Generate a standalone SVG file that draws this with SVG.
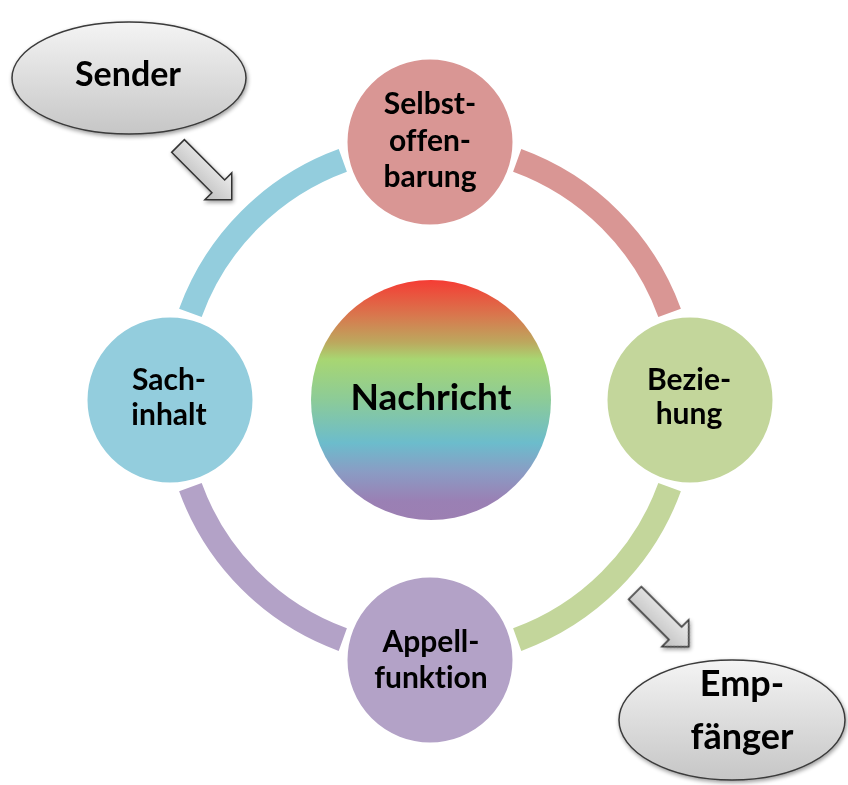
<svg xmlns="http://www.w3.org/2000/svg" width="848" height="785" viewBox="0 0 848 785">
<defs>
<linearGradient id="rainbow" x1="0" y1="0" x2="0" y2="1">
<stop offset="0" stop-color="#f53c34"/>
<stop offset="0.15" stop-color="#d8784e"/>
<stop offset="0.26" stop-color="#bca85e"/>
<stop offset="0.33" stop-color="#a8d672"/>
<stop offset="0.5" stop-color="#8ccb98"/>
<stop offset="0.68" stop-color="#6cbccc"/>
<stop offset="0.8" stop-color="#8a9cc4"/>
<stop offset="0.92" stop-color="#9a80b4"/>
<stop offset="1" stop-color="#9c7fb2"/>
</linearGradient>
<linearGradient id="grey" x1="0" y1="0" x2="0" y2="1">
<stop offset="0" stop-color="#f4f4f4"/>
<stop offset="1" stop-color="#c6c6c6"/>
</linearGradient>
<linearGradient id="greyArrow" x1="0" y1="0" x2="0" y2="1">
<stop offset="0" stop-color="#eeeeee"/>
<stop offset="1" stop-color="#bdbdbd"/>
</linearGradient>
<filter id="shadow" x="-20%" y="-20%" width="140%" height="150%">
<feGaussianBlur in="SourceAlpha" stdDeviation="2"/>
<feOffset dx="1" dy="2" result="b"/>
<feComponentTransfer><feFuncA type="linear" slope="0.4"/></feComponentTransfer>
<feMerge><feMergeNode/><feMergeNode in="SourceGraphic"/></feMerge>
</filter>
</defs>
<style>
.arc{fill:none;stroke-width:24;stroke-linecap:butt}
.node{stroke:#ffffff;stroke-width:3}
.lbl{font-family:Lato,"Liberation Sans",sans-serif;font-weight:bold;font-size:30px;fill:#000;text-anchor:middle;font-variant-ligatures:none}
.big{font-size:37px}
.oval{fill:url(#grey);stroke:#3a3a3a;stroke-width:1.5}
.arrow{fill:url(#greyArrow);stroke:#333;stroke-width:1.5;stroke-linejoin:miter}
</style>
<rect width="848" height="785" fill="#ffffff"/>
<g id="connectors">
<path class="arc" stroke="#d99694" d="M 517.2 160.4 A 255 255 0 0 1 669.6 312.8"/>
<path class="arc" stroke="#c3d69b" d="M 669.6 487.2 A 255 255 0 0 1 517.2 639.6"/>
<path class="arc" stroke="#b3a2c7" d="M 342.8 639.6 A 255 255 0 0 1 190.4 487.2"/>
<path class="arc" stroke="#93cddd" d="M 190.4 312.8 A 255 255 0 0 1 342.8 160.4"/>
<g filter="url(#shadow)">
<path class="arrow" transform="translate(178,146) rotate(45)" d="M 0 -9 L 57 -9 L 57 -19 L 76 0 L 57 19 L 57 9 L 0 9 Z"/>
<path class="arrow" transform="translate(635,593) rotate(45)" d="M 0 -9 L 57 -9 L 57 -19 L 76 0 L 57 19 L 57 9 L 0 9 Z"/>
</g>
</g>
<g id="nachricht">
<circle cx="431" cy="400" r="120" fill="url(#rainbow)"/>
<text class="lbl big" x="431" y="410">Nachricht</text>
</g>
<g id="selbstoffenbarung">
<circle class="node" cx="430" cy="142" r="84" fill="#d99694"/>
<text class="lbl" x="430" y="114">Selbst-</text>
<text class="lbl" x="430" y="151">offen-</text>
<text class="lbl" x="430" y="187">barung</text>
</g>
<g id="beziehung">
<circle class="node" cx="690" cy="400" r="84" fill="#c3d69b"/>
<text class="lbl" x="689" y="390">Bezie-</text>
<text class="lbl" x="689" y="424">hung</text>
</g>
<g id="appellfunktion">
<circle class="node" cx="430" cy="660" r="84" fill="#b3a2c7"/>
<text class="lbl" x="431" y="652">Appell-</text>
<text class="lbl" x="431" y="688">funktion</text>
</g>
<g id="sachinhalt">
<circle class="node" cx="170" cy="400" r="84" fill="#93cddd"/>
<text class="lbl" x="169" y="390">Sach-</text>
<text class="lbl" x="169" y="425">inhalt</text>
</g>
<g id="sender" filter="url(#shadow)">
<ellipse class="oval" cx="129" cy="78" rx="117" ry="56"/>
<text class="lbl" x="128" y="86" style="font-size:34px">Sender</text>
</g>
<g id="empfaenger" filter="url(#shadow)">
<ellipse class="oval" cx="732" cy="720" rx="113" ry="60"/>
<text class="lbl" x="742" y="696" style="font-size:36px">Emp-</text>
<text class="lbl" x="742" y="749" style="font-size:36px">fänger</text>
</g>
</svg>
